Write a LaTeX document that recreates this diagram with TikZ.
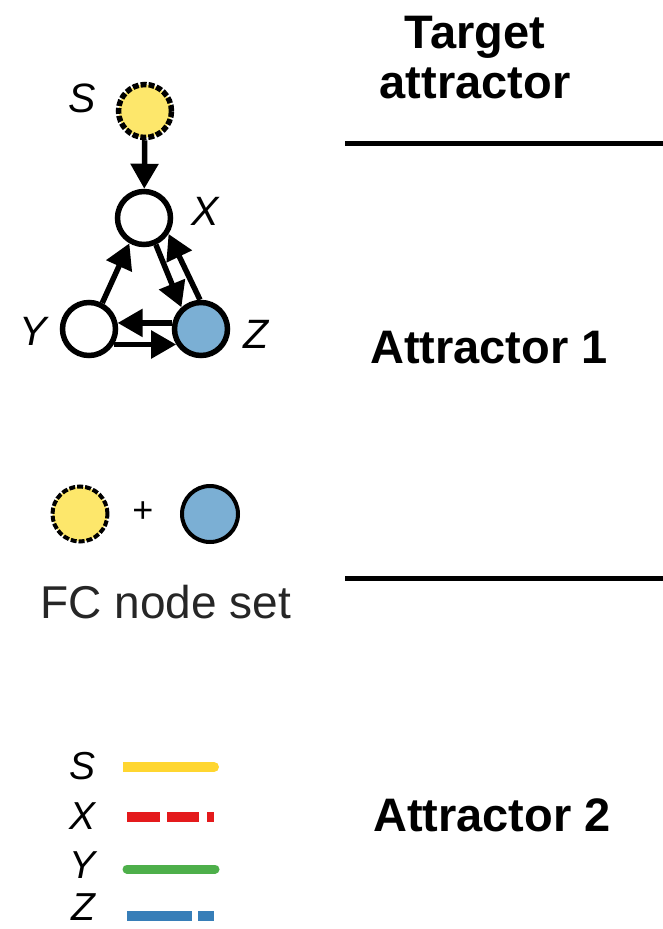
\documentclass[tikz,border=0pt]{standalone}
\usepackage{fontspec}
\setmainfont{Liberation Sans}
\usetikzlibrary{arrows.meta}
\definecolor{nodeyellow}{HTML}{FDE76B}
\definecolor{nodeblue}{HTML}{7BAFD4}
\definecolor{lyellow}{HTML}{FFD630}
\definecolor{lred}{HTML}{E41A1C}
\definecolor{lgreen}{HTML}{4DAF4A}
\definecolor{lblue}{HTML}{377EB8}
\begin{document}
\begin{tikzpicture}[x=1pt,y=-1pt,
  gnode/.style={circle, draw=black, line width=5.5pt, minimum size=53pt, inner sep=0pt},
  dashborder/.style={dash pattern=on 6pt off 2pt},
  edge/.style={line width=5.5pt, -{Triangle[length=25pt,width=27pt]}},
  glabel/.style={font=\fontsize{41}{41}\selectfont\itshape, inner sep=0pt},
  leglabel/.style={font=\fontsize{39}{39}\selectfont\itshape, inner sep=0pt},
  head/.style={font=\fontsize{47}{50}\selectfont\bfseries, align=center, inner sep=0pt},
  sep/.style={line width=5pt},
  legline/.style={line width=10pt}]
\useasboundingbox (0,0) rectangle (663,929);

% network
\node[gnode, fill=nodeyellow, dashborder] (S) at (145,111) {};
\node[gnode, fill=white] (X) at (144,218) {};
\node[gnode, fill=white] (Y) at (89,329) {};
\node[gnode, fill=nodeblue] (Z) at (201,329) {};
\node[glabel] (Sl) at (82,98) {S};
\node[glabel] (Xl) at (205,211) {X};
\node[glabel] (Yl) at (33,331) {Y};
\node[glabel] (Zl) at (256,334) {Z};

\draw[edge] (S) -- (X);
\draw[edge] (Y.63) -- (X.240);
\draw[edge] (X.294) -- (Z.132);
\draw[edge] (Z.92) -- (X.327);
\draw[edge] (Z.168) -- (Y.12);
\draw[edge] (Y.-32) -- (Z.212);

% FC node set
\node[gnode, fill=nodeyellow, dashborder, line width=4pt, minimum size=55pt] (F1) at (80,514) {};
\node[gnode, fill=nodeblue, line width=4pt, minimum size=56pt] (F2) at (210,514) {};
\node[font=\fontsize{36}{36}\selectfont, inner sep=0pt] (plus) at (143,512) {+};
\node[font=\fontsize{46}{46}\selectfont, text=black!85, inner sep=0pt] (fc) at (166,602) {FC node set};

% legend
\node[leglabel] (LS) at (83,766) {S};
\node[leglabel] (LX) at (83,816) {X};
\node[leglabel] (LY) at (83,865) {Y};
\node[leglabel] (LZ) at (83,907) {Z};
\draw[legline, lyellow] (123,767) -- (214,767);
\draw[legline, lyellow, line cap=round] (212,767) -- (214,767);
\draw[legline, lred, dash pattern=on 33pt off 7pt on 32pt off 8pt on 7pt off 20pt] (127,817) -- (214,817);
\draw[line width=9pt, lgreen, line cap=round] (127,869) -- (215,869);
\draw[legline, lblue, dash pattern=on 65pt off 6pt on 16pt off 20pt] (127,916) -- (214,916);

% right column
\node[head] (T) at (475,58) {Target\\attractor};
\draw[sep] (345,143) -- (663,143);
\node[head] (A1) at (489,348) {Attractor 1};
\draw[sep] (345,578) -- (663,578);
\node[head] (A2) at (492,815) {Attractor 2};
\end{tikzpicture}
\end{document}
